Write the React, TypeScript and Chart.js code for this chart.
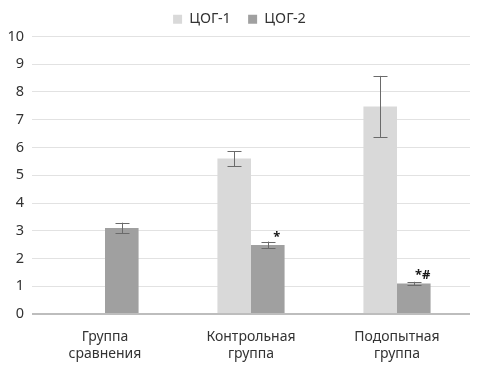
import React, { useEffect, useRef } from "react";
import { Chart, registerables } from "chart.js";

Chart.register(...registerables);

const categories: string[][] = [["Группа", "сравнения"], ["Контрольная", "группа"], ["Подопытная", "группа"]];
const seriesNames = ["ЦОГ-1", "ЦОГ-2"];
const cog1Values = [0, 5.6, 7.48];
const cog1Errors = [0, 0.27, 1.1];
const cog2Values = [3.1, 2.49, 1.1];
const cog2Errors = [0.19, 0.12, 0.06];
const cog2Marks = ["", "*", "*#"];
const yTicks = [0, 1, 2, 3, 4, 5, 6, 7, 8, 9, 10];

const FONT = "'Noto Sans', 'Open Sans', sans-serif";

const errorBarPlugin = {
  id: "errorBars",
  afterDatasetsDraw(chart: any) {
    const ctx = chart.ctx;
    const y = chart.scales.y;
    chart.data.datasets.forEach((ds: any, di: number) => {
      const meta = chart.getDatasetMeta(di);
      meta.data.forEach((bar: any, i: number) => {
        const v = ds.data[i];
        const e = ds.errors ? ds.errors[i] : 0;
        if (!v || !e) return;
        const top = y.getPixelForValue(v + e);
        const bot = y.getPixelForValue(v - e);
        const cx = Math.round(bar.x) + 0.5;
        ctx.save();
        ctx.strokeStyle = "#6a6a6a";
        ctx.lineWidth = 1;
        ctx.beginPath();
        ctx.moveTo(cx, top);
        ctx.lineTo(cx, bot);
        ctx.moveTo(cx - 7, Math.round(top) + 0.5);
        ctx.lineTo(cx + 7, Math.round(top) + 0.5);
        ctx.moveTo(cx - 7, Math.round(bot) + 0.5);
        ctx.lineTo(cx + 7, Math.round(bot) + 0.5);
        ctx.stroke();
        ctx.restore();
      });
      if (ds.marks) {
        meta.data.forEach((bar: any, i: number) => {
          const m = ds.marks[i];
          if (!m) return;
          ctx.save();
          ctx.fillStyle = "#1a1a1a";
          ctx.font = "bold 13px " + FONT;
          ctx.textAlign = "center";
          ctx.textBaseline = "middle";
          ctx.fillText(m, bar.x + 9, bar.y - 8);
          ctx.restore();
        });
      }
    });
  },
};

export default function App() {
  const ref = useRef<HTMLCanvasElement | null>(null);
  useEffect(() => {
    document.body.style.margin = "0";
    const c = new Chart(ref.current as HTMLCanvasElement, {
      type: "bar",
      data: {
        labels: categories as any,
        datasets: [
          {
            label: seriesNames[0],
            data: cog1Values,
            errors: cog1Errors,
            backgroundColor: "#d9d9d9",
            categoryPercentage: 0.46,
            barPercentage: 1,
          } as any,
          {
            label: seriesNames[1],
            data: cog2Values,
            errors: cog2Errors,
            marks: cog2Marks,
            backgroundColor: "#a0a0a0",
            categoryPercentage: 0.46,
            barPercentage: 1,
          } as any,
        ],
      },
      options: {
        animation: false,
        responsive: false,
        layout: { padding: { left: 0, right: 0, top: 2, bottom: 0 } },
        plugins: {
          legend: {
            position: "top",
            labels: {
              boxWidth: 9,
              boxHeight: 9,
              color: "#333333",
              font: { family: FONT, size: 14.5 },
              padding: 10,
              generateLabels: (chart: any) => {
                const items = Chart.defaults.plugins.legend.labels.generateLabels(chart);
                return items.map((it: any, i: number) => ({ ...it, text: i === 0 ? it.text + "\u2002" : it.text }));
              },
            },
          },
          tooltip: { enabled: false },
        },
        scales: {
          x: {
            grid: { display: false },
            border: { display: false },
            ticks: { color: "#333333", font: { family: FONT, size: 14 }, padding: 7 },
            afterFit: (s: any) => { s.height = 57; },
          },
          y: {
            min: 0,
            max: 10,
            afterBuildTicks: (s: any) => { s.ticks = yTicks.map((v) => ({ value: v })); },
            grid: {
              drawTicks: false,
              color: (ctx: any) => (ctx.tick && ctx.tick.value === 0 ? "#bdbdbd" : "#e2e2e2"),
              lineWidth: (ctx: any) => (ctx.tick && ctx.tick.value === 0 ? 2 : 1),
            },
            border: { display: false },
            ticks: { color: "#333333", font: { family: FONT, size: 14.5 }, padding: 8 },
            afterFit: (s: any) => { s.width = 32; },
          },
          yRight: {
            position: "right",
            min: 0,
            max: 10,
            grid: { display: false, drawTicks: false },
            border: { display: false },
            ticks: { display: false },
            afterFit: (s: any) => { s.width = 9; },
          },
        },
      },
      plugins: [errorBarPlugin],
    } as any);
    return () => c.destroy();
  }, []);
  return <canvas ref={ref} width={479} height={371} style={{ display: "block" }} />;
}
